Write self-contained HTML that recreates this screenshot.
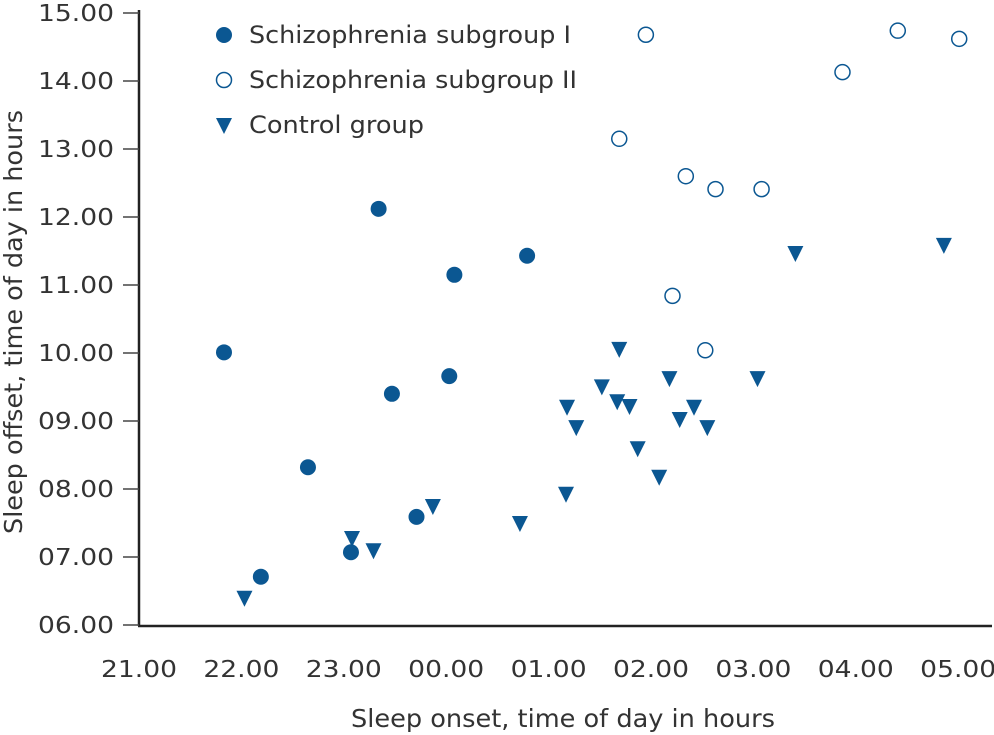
<!DOCTYPE html>
<html><head><meta charset="utf-8"><style>
body{margin:0;background:#fff}
svg{display:block;font-family:"DejaVu Sans","Liberation Sans",sans-serif}
text{fill:#333}
</style></head><body>
<svg id="chart" width="994" height="735" viewBox="0 0 994 735" xmlns="http://www.w3.org/2000/svg">
<g id="axes"></g>
<g id="marks"></g>
<g id="legend"></g>
</svg>
<script>
// x values: hours since 21.00
const xTickLabels = ["21.00","22.00","23.00","00.00","01.00","02.00","03.00","04.00","05.00"];
const yTickLabels = ["06.00","07.00","08.00","09.00","10.00","11.00","12.00","13.00","14.00","15.00"];
const group1X = [0.83,1.19,1.65,2.07,2.34,2.47,2.71,3.03,3.08,3.79];
const group1Y = [10.01,6.71,8.32,7.07,12.12,9.40,7.59,9.66,11.15,11.43];
const group2X = [4.95,4.69,5.34,5.63,6.08,5.21,5.53,6.87,7.41,8.01];
const group2Y = [14.68,13.15,12.60,12.41,12.41,10.84,10.04,14.13,14.74,14.62];
const controlX = [1.03,2.08,2.29,2.87,3.72,4.17,4.18,4.27,4.52,4.69,4.67,4.79,4.87,5.08,5.18,5.28,5.42,5.55,6.04,6.41,7.86];
const controlY = [6.40,7.28,7.10,7.75,7.50,7.93,9.21,8.91,9.51,10.06,9.29,9.22,8.60,8.18,9.63,9.03,9.21,8.91,9.63,11.47,11.59];

const NS="http://www.w3.org/2000/svg", C="#0b5792";
const sx=v=>139+v*102.4, sy=v=>625-(v-6)*68;
function mk(tag,attrs,parent,txt){const e=document.createElementNS(NS,tag);for(const k in attrs)e.setAttribute(k,attrs[k]);if(txt!==undefined)e.textContent=txt;parent.appendChild(e);return e;}
const ax=document.getElementById('axes'), mg=document.getElementById('marks'), lg=document.getElementById('legend');
let e=mk('line',{x1:139,y1:10,x2:139,y2:626,stroke:'#222','stroke-width':2.5},ax);


e=mk('line',{x1:138,y1:626,x2:992,y2:626,stroke:'#222','stroke-width':2.5},ax);


yTickLabels.forEach((t,i)=>{const y=sy(6+i);
 let l=mk('line',{x1:123,y1:y,x2:139,y2:y,stroke:'#444','stroke-width':1.5},ax);
 
 
 let tx=mk('text',{x:114,y:y+8,'text-anchor':'end','font-size':23,textLength:76,lengthAdjust:'spacingAndGlyphs'},ax,t);
 
 
});
xTickLabels.forEach((t,i)=>{
 let tx=mk('text',{x:sx(i),y:677,'text-anchor':'middle','font-size':23,textLength:76,lengthAdjust:'spacingAndGlyphs'},ax,t);
 
 
});
e=mk('text',{x:563,y:727,'text-anchor':'middle','font-size':25,textLength:424,lengthAdjust:'spacingAndGlyphs'},ax,'Sleep onset, time of day in hours');


e=mk('text',{x:0,y:0,'text-anchor':'middle','font-size':25,textLength:424,lengthAdjust:'spacingAndGlyphs',transform:'translate(22,322) rotate(-90)'},ax,'Sleep offset, time of day in hours');


function circle(x,y,p,filled){return mk('circle',{cx:x,cy:y,r:filled?8:7.5,fill:filled?C:'#fff',stroke:C,'stroke-width':filled?0:1.5},p);}
function tri(x,y,p){return mk('polygon',{points:`${x-8},${y-7} ${x+8},${y-7} ${x},${y+9}`,fill:C},p);}
group1X.forEach((v,i)=>{const m=circle(sx(v),sy(group1Y[i]),mg,true);
 
 });
group2X.forEach((v,i)=>{const m=circle(sx(v),sy(group2Y[i]),mg,false);
 
 });
controlX.forEach((v,i)=>{const m=tri(sx(v),sy(controlY[i]),mg);
 
 });
const legendLabels=["Schizophrenia subgroup I","Schizophrenia subgroup II","Control group"];
const legendLens=[322,328,175];
legendLabels.forEach((t,i)=>{const y=35+i*45;
 const g=mk('g',{},lg);
 
 
 if(i===0)circle(224,y,g,true);else if(i===1)circle(224,y,g,false);else tri(224,y,g);
 mk('text',{x:249,y:y+8,'font-size':24,textLength:legendLens[i],lengthAdjust:'spacingAndGlyphs'},g,t);
});
</script>
</body></html>
